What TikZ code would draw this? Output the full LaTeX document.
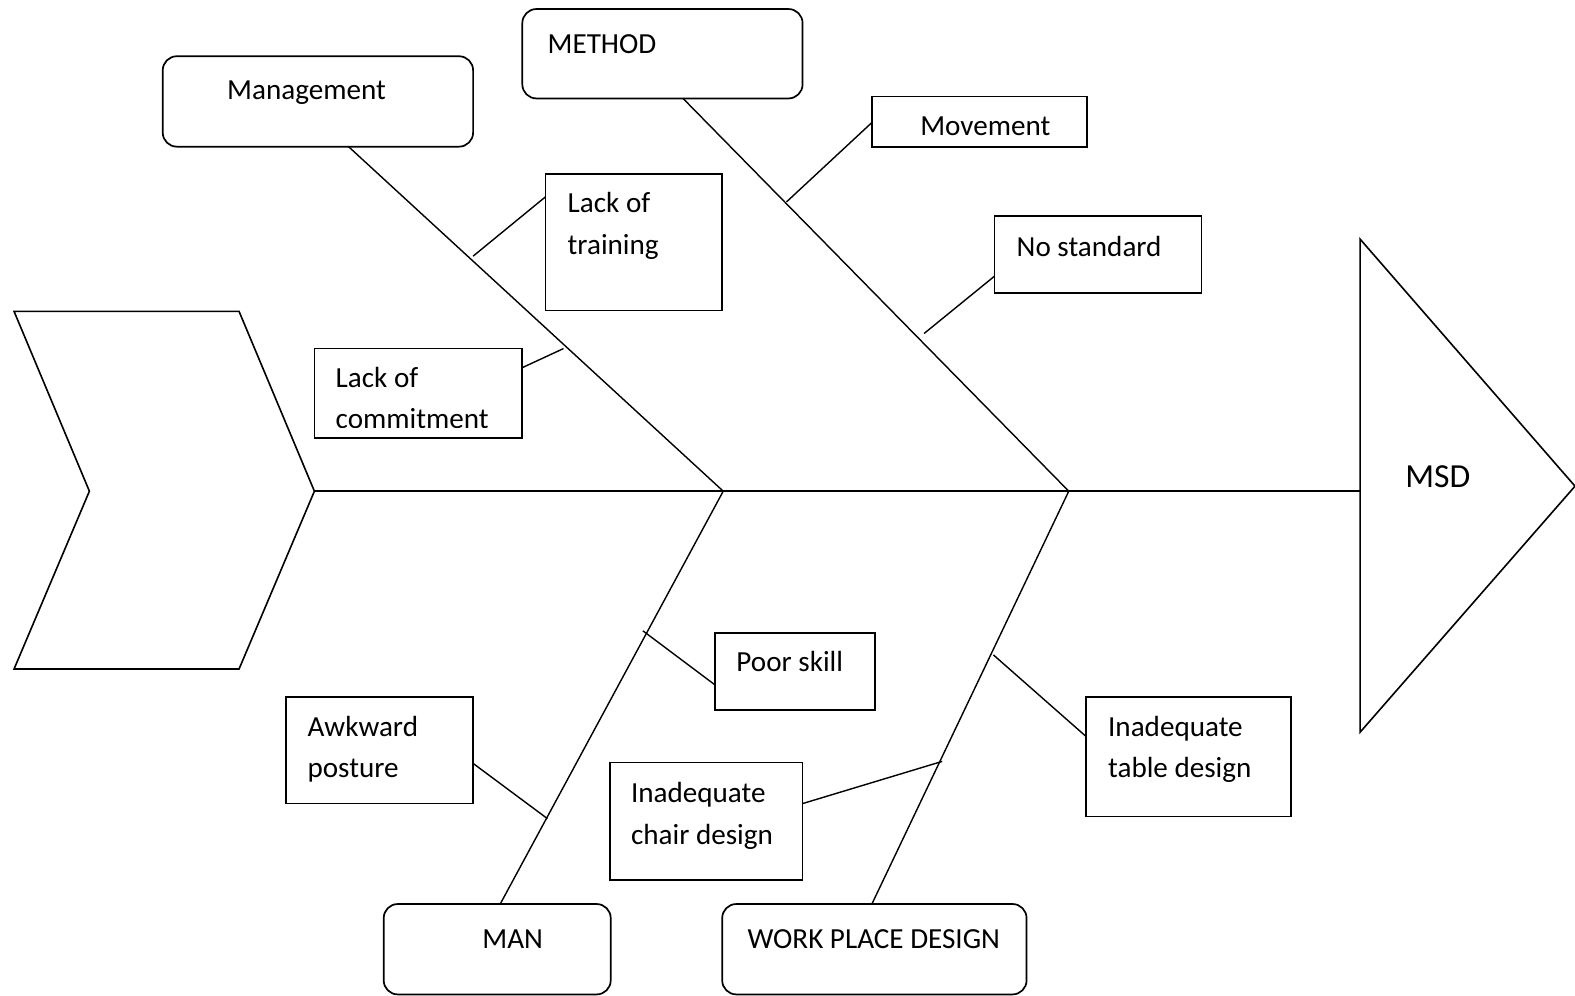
\documentclass[tikz,border=0pt]{standalone}
\usepackage{fontspec}
\setmainfont{Carlito}
\begin{document}
\begin{tikzpicture}[x=1pt, y=-1pt,
  line join=miter,
  rbox/.style={draw, rounded corners=14pt, line width=1.7pt, inner sep=0pt},
  sbox/.style={draw, rectangle, line width=1.7pt, inner sep=0pt},
  bone/.style={line width=1.4pt},
  lbl/.style={anchor=base west, inner sep=0pt, font=\fontsize{29}{35}\selectfont},
  outline/.style={line width=1.6pt}]
\useasboundingbox (0,0) rectangle (1568,991);

% head and tail of the fish
\draw[outline] (14,310) -- (238,310) -- (313,489) -- (238,666) -- (14,666) -- (89,489) -- cycle;
\node[draw=none, inner sep=0pt] (tail) at (313,489) {};
\draw[outline] (1354,238) -- (1568,484) -- (1354,729) -- cycle;
\coordinate (head) at (1354,489);
\node[lbl, font=\fontsize{33.5}{40}\selectfont] (msd) at (1399,485) {MSD};

% category boxes
\node[rbox, minimum width=309pt, minimum height=90pt] (mgmt) at (316.5,101) {};
\node[rbox, minimum width=279pt, minimum height=89pt] (method) at (659.5,53.5) {};
\node[rbox, minimum width=226pt, minimum height=90pt] (man) at (495,945) {};
\node[rbox, minimum width=303pt, minimum height=90pt] (wpd) at (870.5,945) {};
\node[lbl] at (226,99) {Management};
\node[lbl] at (545,53) {METHOD};
\node[lbl] at (480,944) {MAN};
\node[lbl] at (744,944) {WORK PLACE DESIGN};

% cause boxes
\node[sbox, minimum width=214pt, minimum height=50pt] (move) at (975,121) {};
\node[sbox, minimum width=176pt, minimum height=136pt] (train) at (631,241) {};
\node[sbox, minimum width=206pt, minimum height=77pt] (nostd) at (1093,253.5) {};
\node[sbox, minimum width=207pt, minimum height=89pt] (commit) at (416.5,391.5) {};
\node[sbox, minimum width=159pt, minimum height=77pt] (poor) at (791.5,668.5) {};
\node[sbox, minimum width=186pt, minimum height=106pt] (awk) at (378,747) {};
\node[sbox, minimum width=192pt, minimum height=117pt] (chair) at (703,817.5) {};
\node[sbox, minimum width=204pt, minimum height=119pt] (table) at (1183,753.5) {};

\node[lbl] at (916,135) {Movement};
\node[lbl] at (565,212) {Lack of};
\node[lbl] at (565,253) {training};
\node[lbl] at (1012,255) {No standard};
\node[lbl] at (334,386) {Lack of};
\begin{scope}
  \clip (313,347) rectangle (520,425.5);
  \node[lbl] at (334,427) {commitment};
\end{scope}
\node[lbl] at (733,669) {Poor skill};
\node[lbl] at (306,733) {Awkward};
\node[lbl] at (306,774) {posture};
\node[lbl] at (628,799) {Inadequate};
\node[lbl] at (628,841) {chair design};
\node[lbl] at (1103,733) {Inadequate};
\node[lbl] at (1103,774) {table design};

% joints on the spine and bone ends at the boxes
\coordinate (j1) at (720,489);
\coordinate (j2) at (1064,489);
\coordinate (mgmtEnd) at (347,146);
\coordinate (methodEnd) at (680,98);
\coordinate (manEnd) at (498,900);
\coordinate (wpdEnd) at (868,900);

% spine and main bones
\draw[bone] (tail.center) -- (j1) -- (j2) -- (head);
\draw[bone] (mgmtEnd) -- (j1);
\draw[bone] (methodEnd) -- (j2);
\draw[bone] (j1) -- (manEnd);
\draw[bone] (j2) -- (wpdEnd);

% small branches
\coordinate (bTrain) at (471,255);   \coordinate (eTrain) at (543,196);
\coordinate (bCommit) at (561,347);  \coordinate (eCommit) at (520,366);
\coordinate (bMove) at (783,201);    \coordinate (eMove) at (868,122);
\coordinate (bStd) at (920,332);     \coordinate (eStd) at (990,275);
\coordinate (bPoor) at (640,628);    \coordinate (ePoor) at (712,682);
\coordinate (bAwk) at (545,815);     \coordinate (eAwk) at (471,760);
\coordinate (bChair) at (938,758);   \coordinate (eChair) at (799,800);
\coordinate (bTable) at (989,652);   \coordinate (eTable) at (1081,733);
\draw[bone] (bTrain) -- (eTrain);
\draw[bone] (bCommit) -- (eCommit);
\draw[bone] (bMove) -- (eMove);
\draw[bone] (bStd) -- (eStd);
\draw[bone] (bPoor) -- (ePoor);
\draw[bone] (bAwk) -- (eAwk);
\draw[bone] (bChair) -- (eChair);
\draw[bone] (bTable) -- (eTable);
\end{tikzpicture}
\end{document}
